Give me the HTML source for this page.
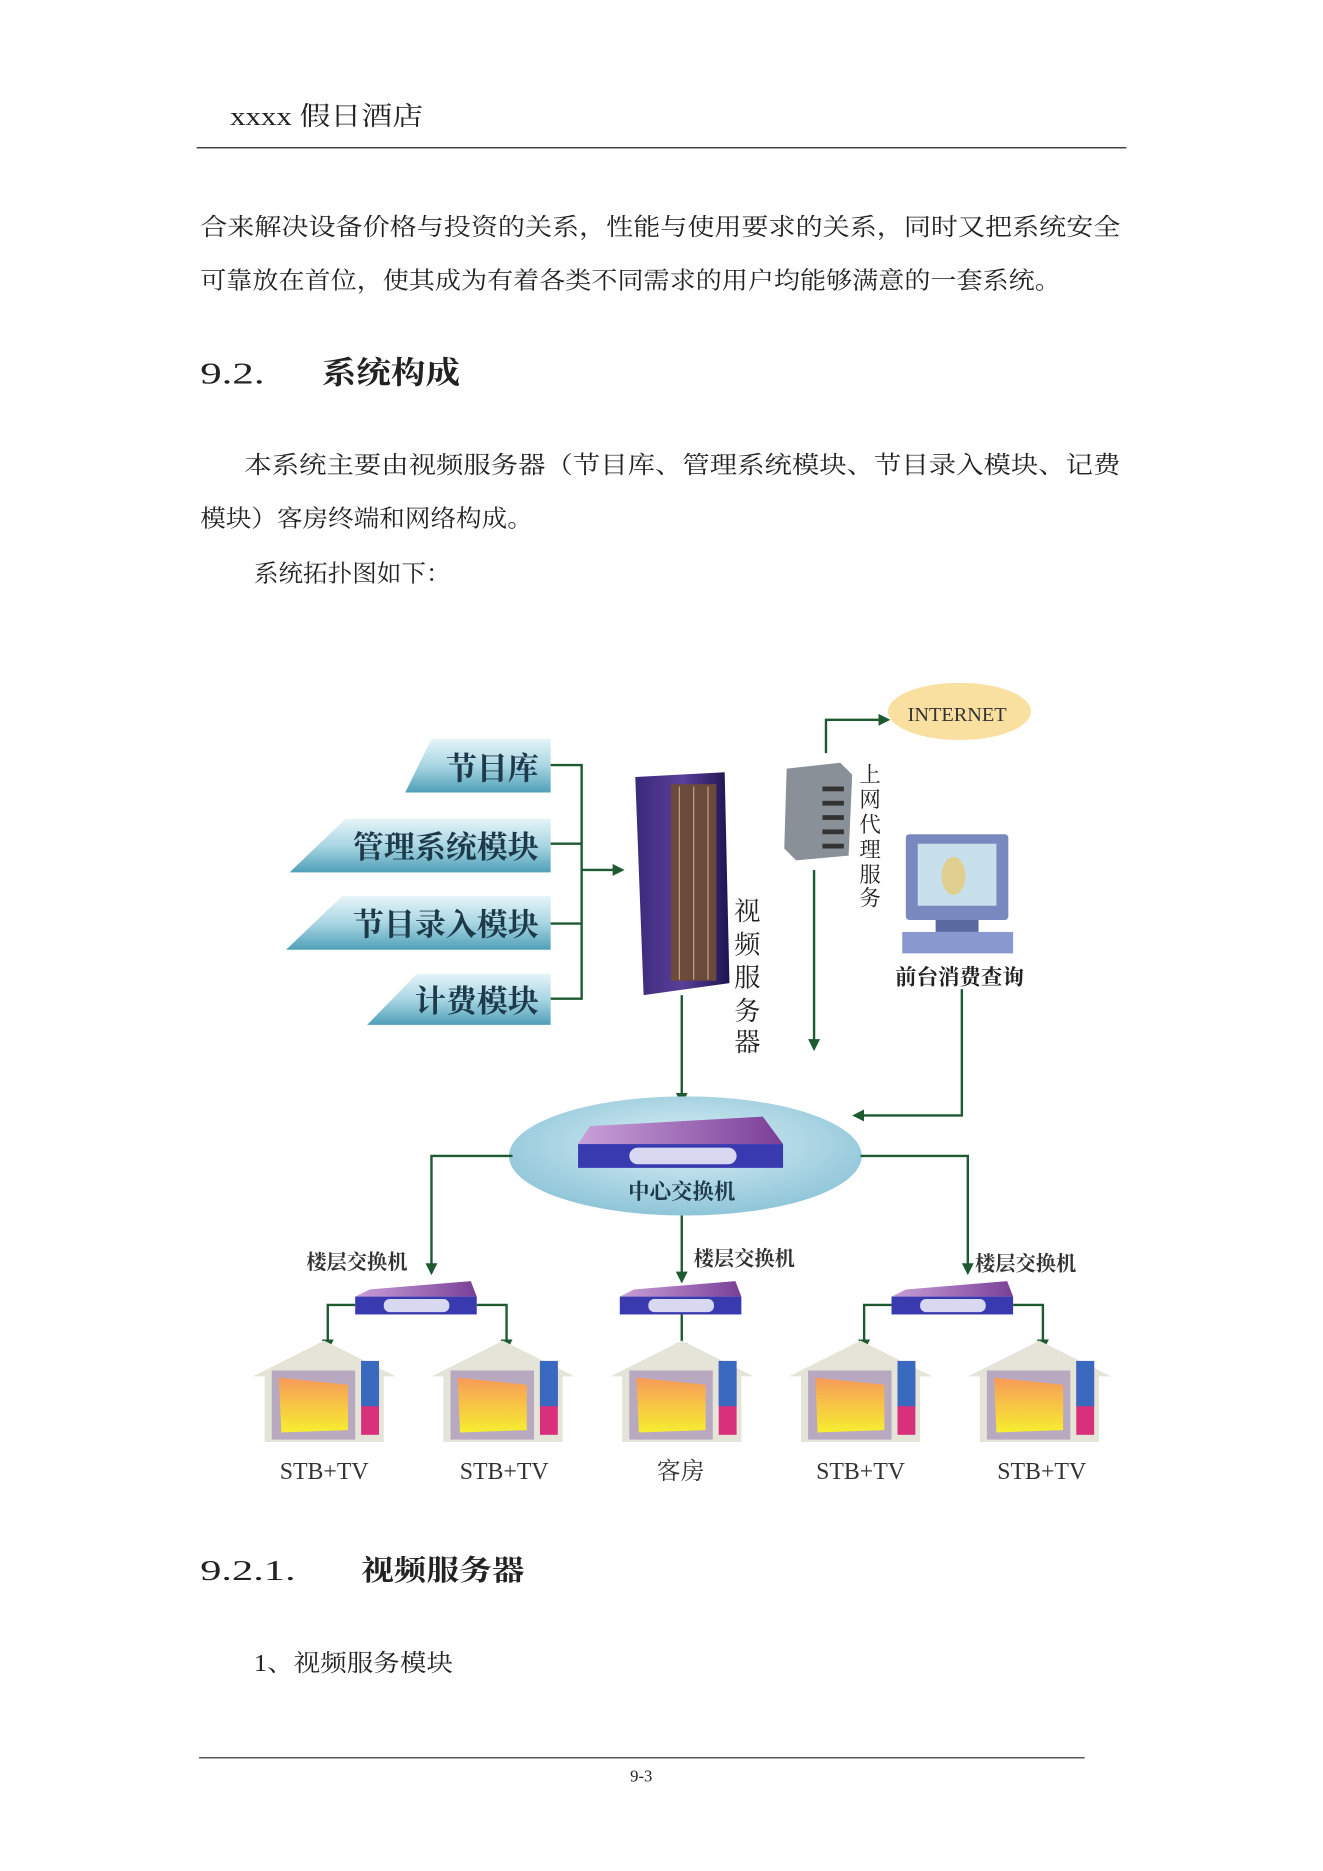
<!DOCTYPE html>
<html><head><meta charset="utf-8"><style>
html,body{margin:0;padding:0;background:#fff}
svg{display:block}
text{font-family:"Liberation Serif","Noto Serif CJK SC","Noto Sans CJK SC",serif}
</style></head><body>
<svg width="1323" height="1871" viewBox="0 0 1110 1570" preserveAspectRatio="none" xmlns="http://www.w3.org/2000/svg">
<defs>
<linearGradient id="tab" x1="0" y1="0" x2="0" y2="1"><stop offset="0" stop-color="#e6f4f8"/><stop offset="0.5" stop-color="#a9d6e3"/><stop offset="1" stop-color="#4f9fb8"/></linearGradient>
<radialGradient id="ell" cx="0.5" cy="0.4" r="0.6"><stop offset="0" stop-color="#d9eef5"/><stop offset="1" stop-color="#8ec5d8"/></radialGradient>
<linearGradient id="rack" x1="0" y1="0" x2="1" y2="0"><stop offset="0" stop-color="#3a2a7a"/><stop offset="0.5" stop-color="#5a3f9a"/><stop offset="1" stop-color="#1e1450"/></linearGradient>
<linearGradient id="sw" x1="0" y1="0" x2="1" y2="0"><stop offset="0" stop-color="#c9a0d8"/><stop offset="1" stop-color="#7a3f98"/></linearGradient>
<linearGradient id="scr" x1="0" y1="0" x2="0" y2="1"><stop offset="0" stop-color="#f79a5a"/><stop offset="1" stop-color="#f7ee30"/></linearGradient>
<marker id="ar" markerWidth="10" markerHeight="10" refX="8" refY="5" orient="auto" markerUnits="userSpaceOnUse"><path d="M0,0 L10,5 L0,10 z" fill="#1e5a30"/></marker>
</defs>

<!-- header -->
<text x="193" y="105" font-size="22" fill="#222" textLength="162" lengthAdjust="spacingAndGlyphs">xxxx 假日酒店</text>
<line x1="165" y1="124" x2="945" y2="124" stroke="#222" stroke-width="1"/>

<text x="168" y="197" font-size="20" fill="#222" textLength="772" lengthAdjust="spacingAndGlyphs">合来解决设备价格与投资的关系，性能与使用要求的关系，同时又把系统安全</text>
<text x="168" y="242" font-size="20" fill="#222" textLength="722" lengthAdjust="spacingAndGlyphs">可靠放在首位，使其成为有着各类不同需求的用户均能够满意的一套系统。</text>
<text x="168" y="322" font-size="26" fill="#222" textLength="54" lengthAdjust="spacingAndGlyphs">9.2.</text>
<text x="270" y="322" font-size="26" font-weight="bold" fill="#222" textLength="116" lengthAdjust="spacingAndGlyphs">系统构成</text>
<text x="205" y="397" font-size="20" fill="#222" textLength="735" lengthAdjust="spacingAndGlyphs">本系统主要由视频服务器（节目库、管理系统模块、节目录入模块、记费</text>
<text x="168" y="442" font-size="20" fill="#222" textLength="279" lengthAdjust="spacingAndGlyphs">模块）客房终端和网络构成。</text>
<text x="213" y="488" font-size="20" fill="#222" textLength="165" lengthAdjust="spacingAndGlyphs">系统拓扑图如下：</text>

<!-- left tabs -->
<polygon points="362,620 462,620 462,665 340,665" fill="url(#tab)"/>
<polygon points="290,687 462,687 462,732 243,732" fill="url(#tab)"/>
<polygon points="287,752 462,752 462,797 240,797" fill="url(#tab)"/>
<polygon points="350,817 462,817 462,860 308,860" fill="url(#tab)"/>
<g font-size="26" font-weight="bold" fill="#1d3a4a" text-anchor="end">
<text x="452" y="654">节目库</text>
<text x="452" y="720">管理系统模块</text>
<text x="452" y="785">节目录入模块</text>
<text x="452" y="849">计费模块</text>
</g>
<g stroke="#1e5a30" stroke-width="2" fill="none">
<polyline points="462,642 488,642 488,838 462,838"/>
<line x1="462" y1="708" x2="488" y2="708"/>
<line x1="462" y1="775" x2="488" y2="775"/>
<line x1="488" y1="730" x2="522" y2="730" marker-end="url(#ar)"/>
</g>

<!-- rack server -->
<polygon points="533,652 608,648 612,825 540,835" fill="url(#rack)"/>
<rect x="563" y="658" width="38" height="165" fill="#6a4a3a"/>
<g stroke="#c8a080" stroke-width="1">
<line x1="570" y1="660" x2="570" y2="822"/><line x1="582" y1="660" x2="582" y2="822"/><line x1="594" y1="660" x2="594" y2="822"/>
</g>
<g font-size="22" fill="#222" text-anchor="middle">
<text x="627" y="772">视</text><text x="627" y="800">频</text><text x="627" y="828">服</text><text x="627" y="856">务</text><text x="627" y="882">器</text>
</g>

<!-- proxy -->
<polygon points="660,645 705,640 715,650 712,718 668,722 658,712" fill="#8a9098"/>
<g fill="#333"><rect x="690" y="660" width="18" height="4"/><rect x="690" y="672" width="18" height="4"/><rect x="690" y="684" width="18" height="4"/><rect x="690" y="696" width="18" height="4"/><rect x="690" y="708" width="18" height="4"/></g>
<g font-size="18" fill="#222" text-anchor="middle">
<text x="730" y="656">上</text><text x="730" y="677">网</text><text x="730" y="698">代</text><text x="730" y="719">理</text><text x="730" y="740">服</text><text x="730" y="760">务</text>
</g>
<polyline points="693,632 693,604 745,604" stroke="#1e5a30" stroke-width="2" fill="none" marker-end="url(#ar)"/>
<ellipse cx="805" cy="597" rx="60" ry="24" fill="#f8d88a" opacity="0.8"/>
<text x="803" y="605" font-size="17" fill="#333" text-anchor="middle">INTERNET</text>
<line x1="683" y1="730" x2="683" y2="880" stroke="#1e5a30" stroke-width="2" marker-end="url(#ar)"/>

<!-- monitor -->
<rect x="760" y="700" width="86" height="72" fill="#7a88c0" rx="3"/>
<rect x="770" y="708" width="66" height="52" fill="#c8e0ec"/>
<ellipse cx="800" cy="735" rx="10" ry="16" fill="#e0d090"/>
<rect x="785" y="772" width="36" height="10" fill="#5a6aa0"/>
<rect x="757" y="782" width="93" height="18" fill="#8a98d0"/>
<text x="805" y="826" font-size="18" font-weight="bold" fill="#222" text-anchor="middle">前台消费查询</text>
<polyline points="807,830 807,936 717,936" stroke="#1e5a30" stroke-width="2" fill="none" marker-end="url(#ar)"/>
<line x1="572" y1="835" x2="572" y2="925" stroke="#1e5a30" stroke-width="2" marker-end="url(#ar)"/>

<!-- central switch -->
<ellipse cx="575" cy="970" rx="148" ry="50" fill="url(#ell)"/>
<polygon points="495,945 640,937 657,960 485,960" fill="url(#sw)"/>
<rect x="485" y="960" width="172" height="20" fill="#3a3ab0"/>
<rect x="528" y="963" width="90" height="14" rx="7" fill="#d8d8f0"/>
<text x="572" y="1006" font-size="18" font-weight="bold" fill="#1d3a4a" text-anchor="middle">中心交换机</text>
<g stroke="#1e5a30" stroke-width="2" fill="none">
<polyline points="430,970 362,970 362,1068" marker-end="url(#ar)"/>
<polyline points="722,970 812,970 812,1068" marker-end="url(#ar)"/>
<line x1="572" y1="1020" x2="572" y2="1075" marker-end="url(#ar)"/>
</g>
<g font-size="17" font-weight="bold" fill="#333">
<text x="257" y="1065">楼层交换机</text>
<text x="582" y="1062">楼层交换机</text>
<text x="818" y="1066">楼层交换机</text>
</g>

<!-- floor switches -->
<g id="fs">
<polygon points="310,1082 395,1075 400,1088 298,1088" fill="url(#sw)"/>
<rect x="298" y="1088" width="102" height="15" fill="#3a3ab0"/>
<rect x="322" y="1090" width="55" height="11" rx="5" fill="#d8d8f0"/>
</g>
<use href="#fs" x="222"/>
<use href="#fs" x="450"/>
<g stroke="#1e5a30" stroke-width="2" fill="none">
<polyline points="298,1095 275,1095 275,1132" marker-end="url(#ar)"/>
<polyline points="400,1095 425,1095 425,1132" marker-end="url(#ar)"/>
<line x1="572" y1="1103" x2="572" y2="1135" marker-end="url(#ar)"/>
<polyline points="748,1095 725,1095 725,1132" marker-end="url(#ar)"/>
<polyline points="850,1095 875,1095 875,1132" marker-end="url(#ar)"/>
</g>

<!-- houses -->
<g id="h">
<polygon points="212,1155 272,1125 332,1155 322,1155 322,1210 222,1210 222,1155" fill="#e4e4d8"/>
<rect x="228" y="1150" width="70" height="58" fill="#b8a8c0"/>
<polygon points="234,1156 292,1162 292,1200 236,1202" fill="url(#scr)"/>
<rect x="303" y="1142" width="15" height="62" fill="#d8307a"/>
<rect x="303" y="1142" width="15" height="38" fill="#3a6ac0"/>
</g>
<use href="#h" x="150"/><use href="#h" x="300"/><use href="#h" x="450"/><use href="#h" x="600"/>
<g font-size="20" fill="#333" text-anchor="middle">
<text x="272" y="1241">STB+TV</text>
<text x="423" y="1241">STB+TV</text>
<text x="571" y="1241">客房</text>
<text x="722" y="1241">STB+TV</text>
<text x="874" y="1241">STB+TV</text>
</g>

<text x="168" y="1326" font-size="24" fill="#222" textLength="80" lengthAdjust="spacingAndGlyphs">9.2.1.</text>
<text x="303" y="1326" font-size="24" font-weight="bold" fill="#222" textLength="137" lengthAdjust="spacingAndGlyphs">视频服务器</text>
<text x="213" y="1402" font-size="20" fill="#222" textLength="167" lengthAdjust="spacingAndGlyphs">1、视频服务模块</text>

<line x1="167" y1="1475" x2="910" y2="1475" stroke="#222" stroke-width="1"/>
<text x="538" y="1495" font-size="14" fill="#222" text-anchor="middle">9-3</text>
</svg>
</body></html>
